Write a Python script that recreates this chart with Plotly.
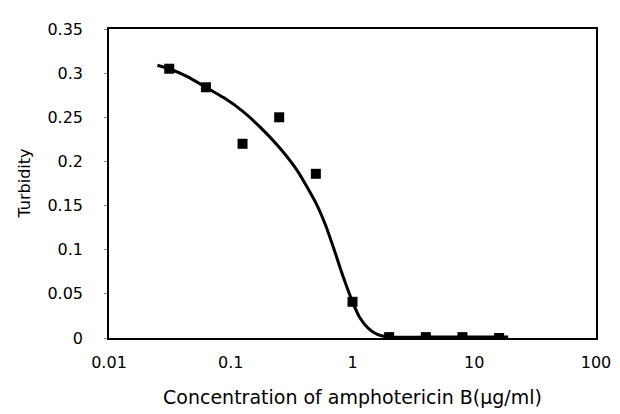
import plotly.graph_objects as go

# Measured data
conc = [0.03125, 0.0625, 0.125, 0.25, 0.5, 1, 2, 4, 8, 16]
turbidity = [0.305, 0.284, 0.22, 0.25, 0.186, 0.041, 0.001, 0.001, 0.001, 0.0]

# Fitted curve
curve_x = [0.025, 0.03125, 0.044, 0.0625, 0.088, 0.125, 0.177, 0.25, 0.354, 0.5,
           0.6, 0.707, 0.84, 1.0, 1.15, 1.35, 1.6, 2.0, 4.0, 8.0, 19.0]
curve_y = [0.309, 0.305, 0.296, 0.284, 0.272, 0.257, 0.238, 0.216, 0.189, 0.153,
           0.128, 0.100, 0.069, 0.041, 0.023, 0.011, 0.004, 0.001, 0.001, 0.001, 0.001]

y_ticks = [0, 0.05, 0.1, 0.15, 0.2, 0.25, 0.3, 0.35]
y_tick_text = ["0", "0.05", "0.1", "0.15", "0.2", "0.25", "0.3", "0.35"]
x_ticks = [0.01, 0.1, 1, 10, 100]
x_tick_text = ["0.01", "0.1", "1", "10", "100"]

FONT = "DejaVu Sans"

fig = go.Figure()
fig.add_trace(go.Scatter(x=curve_x, y=curve_y, mode="lines",
                         line=dict(color="black", width=3, shape="spline", smoothing=0.6),
                         showlegend=False, hoverinfo="skip"))
fig.add_trace(go.Scatter(x=conc, y=turbidity, mode="markers",
                         marker=dict(symbol="square", size=10, color="black"),
                         showlegend=False))

fig.update_layout(
    width=620, height=414,
    margin=dict(l=101, r=32, t=19, b=84),
    paper_bgcolor="white", plot_bgcolor="white",
    font=dict(family=FONT, size=16, color="black"),
    xaxis=dict(type="log", range=[-2, 2], tickvals=x_ticks, ticktext=x_tick_text,
               ticks="", showgrid=False, zeroline=False,
               showline=True, linecolor="black", linewidth=1.5, mirror=True,
               ticklabelstandoff=9, tickfont=dict(size=16),
               title=dict(text="Concentration of amphotericin B(\u03bcg/ml)",
                          font=dict(size=19), standoff=20)),
    yaxis=dict(range=[0, 0.35], tickvals=y_ticks, ticktext=y_tick_text,
               ticks="outside", ticklen=3, tickcolor="#888", showgrid=False, zeroline=False,
               showline=True, linecolor="black", linewidth=1.5, mirror=True,
               ticklabelstandoff=18, tickfont=dict(size=16)),
    annotations=[dict(text="Turbidity", xref="paper", yref="paper",
                      x=(16 - 101) / 487, y=0.5, xanchor="center", yanchor="middle",
                      textangle=-90, showarrow=False, font=dict(size=16))],
)

fig.write_html("out.html")
